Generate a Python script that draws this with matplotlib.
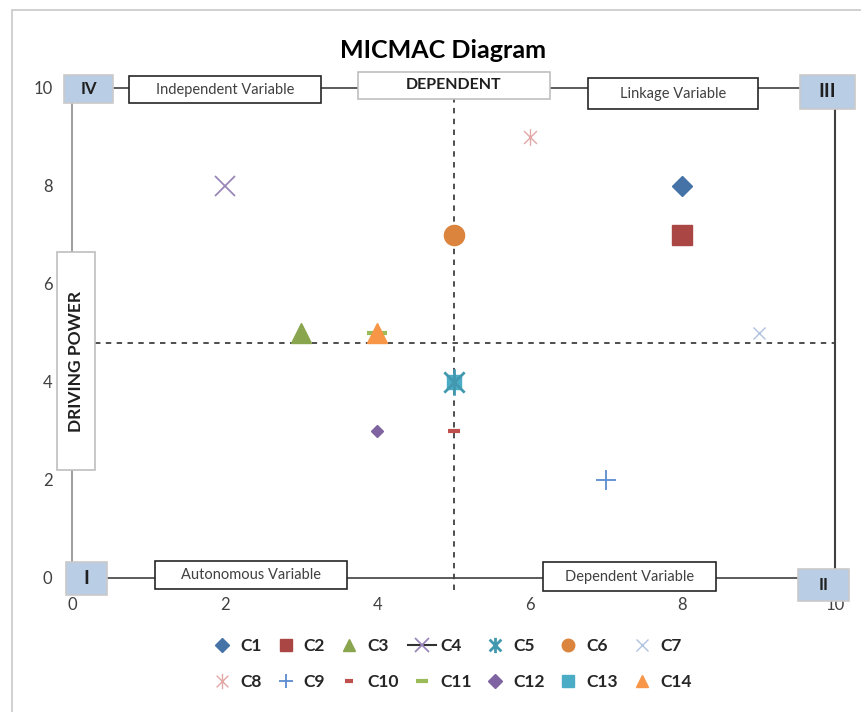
import matplotlib
matplotlib.use("Agg")
import matplotlib.pyplot as plt
from matplotlib.patches import Rectangle
from matplotlib.path import Path

plt.rcParams['font.family'] = ['Lato', 'DejaVu Sans']

# data: (dependence, driving power)
labels = ['C1', 'C2', 'C3', 'C4', 'C5', 'C6', 'C7',
          'C8', 'C9', 'C10', 'C11', 'C12', 'C13', 'C14']
dependence = [8, 8, 3, 2, 5, 5, 9, 6, 7, 5, 4, 4, 5, 4]
driving = [8, 7, 5, 8, 4, 7, 5, 9, 2, 3, 5, 3, 4, 5]
ticks = [0, 2, 4, 6, 8, 10]
h_split = 4.8
v_split = 5

# Excel-like asterisk: an x with a vertical bar through it
asterisk = Path([(-1, -1), (1, 1), (-1, 1), (1, -1), (0, -1.3), (0, 1.3)],
                [Path.MOVETO, Path.LINETO, Path.MOVETO, Path.LINETO,
                 Path.MOVETO, Path.LINETO])

styles = {
    'C1':  dict(marker='D', ms=10.5, color='#4572A7'),
    'C2':  dict(marker='s', ms=14, color='#AA4643'),
    'C3':  dict(marker='^', ms=14, color='#89A54E'),
    'C4':  dict(marker='x', ms=15, mew=1.3, mec='#9A86B8', color='#333333', ls='-'),
    'C5':  dict(marker=asterisk, ms=19, mew=2.0, color='#4198AF'),
    'C6':  dict(marker='o', ms=14.5, color='#DB843D'),
    'C7':  dict(marker='x', ms=9, mew=1.0, color='#AFC3E0'),
    'C8':  dict(marker=asterisk, ms=12, mew=1.0, color='#E2A8A6'),
    'C9':  dict(marker='+', ms=15, mew=1.3, color='#5B8BD0'),
    'C10': dict(marker='_', ms=8, mew=3, color='#C0504D'),
    'C11': dict(marker='_', ms=15, mew=3, color='#9BBB59'),
    'C12': dict(marker='D', ms=6.5, color='#8064A2'),
    'C13': dict(marker='s', ms=10, color='#4BACC6'),
    'C14': dict(marker='^', ms=14, color='#F79646'),
}
legend_ms = {'C1': 7, 'C2': 9, 'C3': 9, 'C4': 10, 'C5': 11, 'C6': 9, 'C7': 8,
             'C8': 11, 'C9': 10, 'C10': 6, 'C11': 9, 'C12': 7, 'C13': 8, 'C14': 9}
order = ['C4', 'C7', 'C8', 'C9', 'C12', 'C10', 'C3', 'C11', 'C14',
         'C13', 'C5', 'C6', 'C1', 'C2']

fig = plt.figure(figsize=(8.62, 7.12), dpi=100)
ax = fig.add_axes([72 / 862, 134 / 712, 763 / 862, 490 / 712])
ax.set_xlim(0, 10)
ax.set_ylim(0, 10)
for s in ax.spines.values():
    s.set_visible(False)

# chart frame
fig.patches.append(Rectangle((12 / 862, -0.1), 1.2, (712 - 10) / 712 + 0.1,
                             transform=fig.transFigure, fill=False,
                             edgecolor='#C8C8C8', lw=1.2))

ax.set_xticks(ticks)
ax.set_yticks(ticks)
ax.tick_params(length=0, labelsize=12, labelcolor='#404040')
ax.tick_params(axis='x', pad=14)
ax.tick_params(axis='y', pad=14)

# quadrant frame lines
ax.plot([0, 0], [0, 10], color='#8C8C8C', lw=1.2, clip_on=False, zorder=1)
ax.plot([10, 10], [0, 10], color='#404040', lw=1.5, clip_on=False, zorder=1)
ax.plot([0, 10], [10, 10], color='#404040', lw=1.2, clip_on=False, zorder=1)
ax.plot([0, 10], [0, 0], color='#404040', lw=1.2, clip_on=False, zorder=1)

# split lines
ax.plot([v_split, v_split], [-0.25, 9.8], color='#404040', lw=1.3,
        ls=(0, (3, 3)), clip_on=False, zorder=2)
ax.plot([0.3, 10], [h_split, h_split], color='#404040', lw=1.3,
        ls=(0, (3, 3)), clip_on=False, zorder=2)


def box(x0, x1, y0, y1, text, fc='white', ec='#262626', lw=1.2,
        size=10.5, weight='normal', rot=0, color='#404040'):
    ax.add_patch(Rectangle((x0, y0), x1 - x0, y1 - y0, facecolor=fc,
                           edgecolor=ec, lw=lw, clip_on=False, zorder=3))
    ax.text((x0 + x1) / 2, (y0 + y1) / 2, text, ha='center', va='center',
            fontsize=size, fontweight=weight, rotation=rot, color=color,
            zorder=4, clip_on=False)


quad_fc = '#B9CDE5'
quad_ec = '#C9C9C9'
box(-0.105, 0.537, 9.69, 10.27, 'IV', fc=quad_fc, ec=quad_ec, size=12,
    weight='bold', color='#1F1F1F')
box(9.54, 10.26, 9.57, 10.27, 'III', fc=quad_fc, ec=quad_ec, size=14,
    weight='bold', color='#1F1F1F')
box(-0.08, 0.46, -0.35, 0.33, 'I', fc=quad_fc, ec=quad_ec, size=14,
    weight='bold', color='#1F1F1F')
box(9.51, 10.18, -0.47, 0.18, 'II', fc=quad_fc, ec=quad_ec, size=12,
    weight='bold', color='#1F1F1F')
box(0.747, 3.263, 9.69, 10.24, 'Independent Variable')
box(3.75, 6.26, 9.78, 10.33, 'DEPENDENT', ec='#BFBFBF', size=11.5,
    weight='bold', color='#1F1F1F')
box(6.76, 8.99, 9.57, 10.20, 'Linkage Variable')
box(1.09, 3.60, -0.22, 0.35, 'Autonomous Variable')
box(6.17, 8.44, -0.27, 0.33, 'Dependent Variable')
box(-0.20, 0.30, 2.20, 6.65, 'DRIVING POWER', ec='#BFBFBF', size=12.5,
    weight='bold', rot=90, color='#1F1F1F')

# points
for name in order:
    i = labels.index(name)
    st = dict(styles[name])
    st.setdefault('ls', 'none')
    ax.plot(dependence[i], driving[i], label=name, clip_on=False,
            zorder=5, **st)

# legend: 2 rows x 7 columns, filled row by row
handles_map = {h.get_label(): h for h in ax.get_lines() if h.get_label() in labels}
leg_order = [labels[r * 7 + c] for c in range(7) for r in range(2)]
handles = [handles_map[n] for n in leg_order]
leg = fig.legend(handles, leg_order, loc='center', ncol=7,
                 bbox_to_anchor=(450 / 862, 1 - 664 / 712), frameon=False,
                 prop=dict(family='Lato', weight='bold', size=12.5),
                 handlelength=1.6, handletextpad=0.25, columnspacing=0.55,
                 labelspacing=1.2)
for t in leg.get_texts():
    t.set_color('#262626')
for name, h in zip(leg_order, leg.legend_handles):
    h.set_markersize(legend_ms[name])

fig.text(443 / 862, 1 - 50 / 712, 'MICMAC Diagram', ha='center', va='center',
         fontsize=18, fontweight='bold', color='#000000')

fig.savefig('out.png', dpi=100, facecolor='white')
